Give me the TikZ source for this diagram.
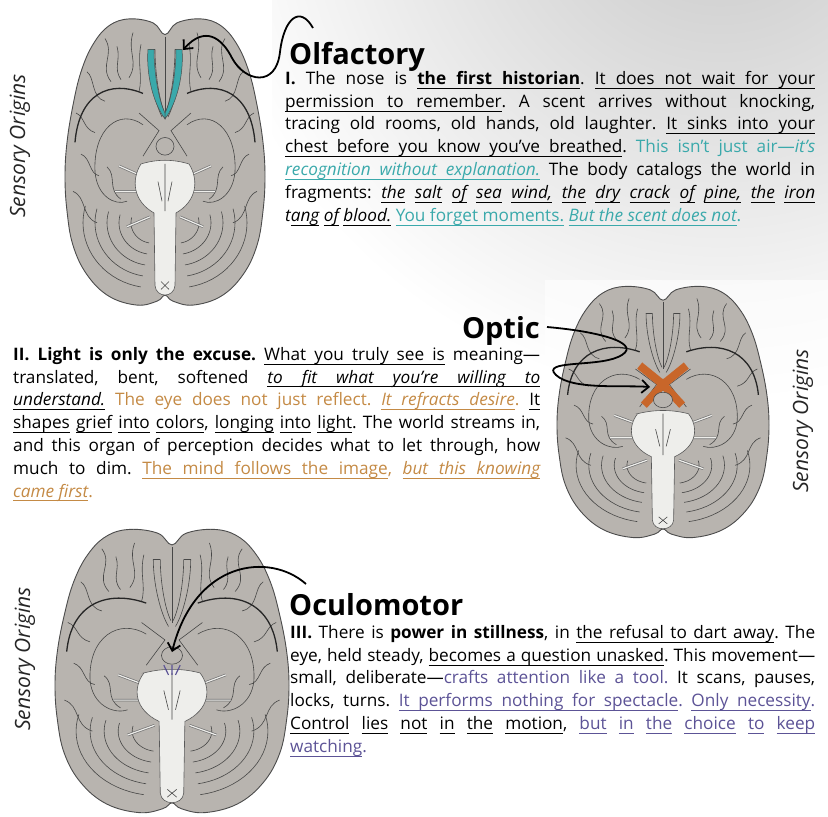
\documentclass[tikz,border=0pt]{standalone}
\usepackage{fontspec}
\setmainfont{Open Sans}
\usetikzlibrary{arrows.meta}
\newcommand\ulbox[1]{\setbox0\hbox{#1}\rlap{\rule[-4.2pt]{\wd0}{0.8pt}}\box0\relax}
\newcommand\ulsp{\leaders\hrule height -3.4pt depth 4.2pt\hskip\fontdimen2\font plus \fontdimen3\font minus \fontdimen4\font}
\def\ulA#1 #2\ulend{\ulbox{#1}\ifx\relax#2\relax\else\ulsp\ulA#2\ulend\fi}
\newcommand\uline[1]{\leavevmode\ulA#1 \ulend}
\definecolor{tealC}{HTML}{3AA9AB}
\definecolor{tanC}{HTML}{C48A45}
\definecolor{purpC}{HTML}{5C5396}
\definecolor{brainC}{HTML}{B8B4AF}
\definecolor{stemC}{HTML}{EEEEEB}
\definecolor{orangeC}{HTML}{C8662A}
\tikzset{
  brainline/.style={draw=black!72, line width=0.6},
  title/.style={font=\fontsize{29}{34}\selectfont\bfseries, inner sep=0},
  para/.style={font=\fontsize{17.2}{22.8}\selectfont\frenchspacing, inner sep=0, align=justify, anchor=north west},
  side/.style={font=\fontsize{21}{24}\selectfont\itshape, rotate=90, inner sep=0, text=black!85},
  pointer/.style={line width=1.8, -{Straight Barb[length=7pt,width=13pt]}}
}
\newcommand\mybrain[5]{%
\begin{scope}[shift={(#1,#2)},xscale=#3,yscale=#4]
\filldraw[fill=brainC, draw=black!70, line width=0.9] plot[smooth cycle, tension=0.65] coordinates {(0,-130)(-12,-142)(-36,-146)(-56,-139)(-72,-120)(-84,-92)(-92,-58)(-98,-20)(-100,15)(-98,50)(-92,85)(-78,115)(-56,137)(-28,146)(-8,142)(0,136)(8,142)(28,146)(56,137)(78,115)(92,85)(98,50)(100,15)(98,-20)(92,-58)(84,-92)(72,-120)(56,-139)(36,-146)(12,-142)};
\draw[brainline] (0,-128) -- (0,-50);
\foreach \s in {1,-1}{
 \begin{scope}[xscale=\s]
  \draw[brainline] (-60,-126) .. controls (-50,-110) and (-66,-98) .. (-54,-82);
  \draw[brainline] (-32,-132) .. controls (-38,-112) and (-26,-102) .. (-36,-86);
  \draw[brainline] (-78,-92) .. controls (-70,-86) and (-74,-66) .. (-60,-62);
  \draw[brainline] (-89,-50) .. controls (-80,-46) and (-82,-34) .. (-70,-30);
  \draw[brainline] (-92,30) .. controls (-78,36) and (-84,56) .. (-68,62);
  \draw[brainline] (-58,5) .. controls (-48,14) and (-58,28) .. (-44,38);
  \draw[brainline] (-84,-8) .. controls (-74,-4) and (-76,12) .. (-66,14);
  \draw[brainline] (-48,-118) .. controls (-44,-104) and (-52,-96) .. (-44,-84);
  \draw[brainline] (-24,-120) .. controls (-28,-100) and (-22,-88) .. (-26,-72);
  \draw[draw=black!85, line width=1.3] (-22,-70) .. controls (-55,-84) and (-86,-70) .. (-90,-20);
  \draw[brainline] (-22,-38) .. controls (-45,-55) and (-72,-35) .. (-70,10) .. controls (-68,35) and (-50,45) .. (-38,40);
  \draw[brainline] (-16,-115) .. controls (-16,-90) and (-10,-60) .. (-3,-46);
  \draw[brainline] (-10,-115) .. controls (-10,-92) and (-6,-64) .. (-1,-52);
  \draw[brainline] (-16,-115) -- (-10,-115);
  \draw[brainline] (-26,-50) -- (-6,-32) -- (-22,-6);
  \foreach \r in {22,34,46,58,70}
    \draw[brainline] plot[domain=100:195,samples=20] ({-12+\r*cos(\x)},{62+0.95*\r*sin(\x)});
  \draw[line width=2.6, black!55] (-24,14) -- (-46,4) (-28,30) -- (-50,30) (-15,56) -- (-38,66);
  \draw[line width=1.2, stemC] (-24,14) -- (-46,4) (-28,30) -- (-50,30) (-15,56) -- (-38,66);
 \end{scope}}
\filldraw[fill=stemC, draw=black!65, line width=0.6] (-24,2) .. controls (-34,18) and (-32,40) .. (-11,52) -- (-10,126) .. controls (-9,139) and (9,139) .. (10,126) -- (11,52) .. controls (32,40) and (34,18) .. (24,2) .. controls (8,-3) and (-8,-3) .. cycle;
\draw[brainline] (0,2) -- (0,50) (-7,20) -- (-3,40) (7,20) -- (3,40);
\draw[brainline] (-4,122) -- (4,130) (4,122) -- (-4,130);
\filldraw[fill=brainC, draw=black!70, line width=0.6] (0,-16) circle (9);
#5
\end{scope}}
\begin{document}
\begin{tikzpicture}[x=1pt,y=-1pt]
\useasboundingbox (0,0) rectangle (828,817);
\begin{scope}
\clip (0,0) rectangle (828,817);
\shade[inner color=black!22, outer color=white] (720,-120) circle (520);
\fill[white] (0,0) rectangle (272,312);
\fill[white] (0,518) rectangle (300,817);
\fill[white, opacity=0.6] (545,280) rectangle (828,548);
\end{scope}

% brains
\mybrain{165}{162}{1.0}{0.98}{%
  \foreach \s in {1,-1}{\begin{scope}[xscale=\s]
  \filldraw[fill=tealC, draw=black!70, line width=0.5] (-17,-115) .. controls (-19,-90) and (-12,-60) .. (0,-44) -- (0,-50) .. controls (-6,-62) and (-11,-90) .. (-11,-115) -- cycle;
  \end{scope}}
}
\mybrain{663}{412}{1.06}{0.86}{%
  \draw[line width=8, orangeC] (-22,-54) -- (0,-32) -- (22,-54) (-18,-8) -- (0,-32) -- (18,-8);
  \filldraw[fill=brainC, draw=black!70, line width=0.6] (0,-14) circle (9);
}
\mybrain{172}{671}{1.17}{0.97}{%
  \draw[purpC, line width=1.2] (-7,-6) -- (-3,4) (7,-6) -- (3,4) (0,-6) -- (0,4);
}

\coordinate (olfT) at (183,50);
\coordinate (optT) at (650,387);
\coordinate (ocuT) at (172,652);

% side labels
\node[side] (s1) at (20,146) {Sensory Origins};
\node[side] (s2) at (803,421) {Sensory Origins};
\node[side] (s3) at (25,659) {Sensory Origins};

% titles
\node[title, anchor=base west] (olf) at (289,64) {Olfactory};
\node[title, anchor=base east] (opt) at (540,338) {Optic};
\node[title, anchor=base west] (ocu) at (289,615) {Oculomotor};

% arrows
\draw[pointer] (313,28) .. controls (300,5) and (284,18) .. (280,52) .. controls (276,88) and (245,82) .. (232,58) .. controls (222,38) and (205,25) .. (olfT);
\draw[pointer] (547,327) .. controls (605,332) and (645,345) .. (618,357) .. controls (596,367) and (540,360) .. (556,375) .. controls (572,390) and (622,385) .. (optT);
\draw[pointer] (306,584) .. controls (270,552) and (195,560) .. (ocuT);

% paragraphs
\node[para, text width=530pt] (p1) at (285,71) {\tolerance=9999\hbadness=10000
\textbf{I.} The nose is \textbf{\uline{the first historian}}. \uline{It does not wait for your}\linebreak
\uline{permission to remember}. A scent arrives without knocking,\linebreak
tracing old rooms, old hands, old laughter. \uline{It sinks into your}\linebreak
\uline{chest before you know you’ve breathed}. {\color{tealC}This isn’t just air—\textit{it’s}}\linebreak
{\color{tealC}\textit{\uline{recognition without explanation.}}} The body catalogs the world in\linebreak
fragments: \textit{\uline{the} \uline{salt} \uline{of} \uline{sea} \uline{wind,} \uline{the} \uline{dry} \uline{crack} \uline{of} \uline{pine,} \uline{the} \uline{iron}}\linebreak
\textit{t\uline{ang} \uline{of} \uline{blood.}} {\color{tealC}\uline{You forget moments.} \textit{\uline{But the scent does not}}.}};

\node[para, text width=527pt] (p2) at (13,347) {\tolerance=9999\hbadness=10000
\textbf{II. Light is only the excuse.} \uline{What you truly see is} meaning—\linebreak
translated, bent, softened \textit{\uline{to fit what you’re willing to}}\linebreak
\textit{\uline{understand.}} {\color{tanC}The eye does not just reflect. \textit{\uline{It refracts desire}}.} \uline{It}\linebreak
\uline{shapes} \uline{grief} \uline{into} \uline{colors}, \uline{longing} \uline{into} \uline{light}. The world streams in,\linebreak
and this organ of perception decides what to let through, how\linebreak
much to dim. {\color{tanC}\uline{The mind follows the image}, \textit{\uline{but this knowing}}}\linebreak
{\color{tanC}\textit{\uline{came first}}.}};

\node[para, text width=525pt] (p3) at (290,625) {\tolerance=9999\hbadness=10000
\textbf{III.} There is \textbf{power in stillness}, in \uline{the refusal to dart away}. The\linebreak
eye, held steady, \uline{becomes a question unasked}. This movement—\linebreak
small, deliberate—{\color{purpC}crafts attention like a tool.} It scans, pauses,\linebreak
locks, turns. {\color{purpC}\uline{It performs nothing for spectacle}. \uline{Only necessity}.}\linebreak
\uline{Control} \uline{lies} \uline{not} \uline{in} \uline{the} \uline{motion}, {\color{purpC}\uline{but} \uline{in} \uline{the} \uline{choice} \uline{to} \uline{keep}}\linebreak
{\color{purpC}\uline{watching}.}};
\end{tikzpicture}
\end{document}
